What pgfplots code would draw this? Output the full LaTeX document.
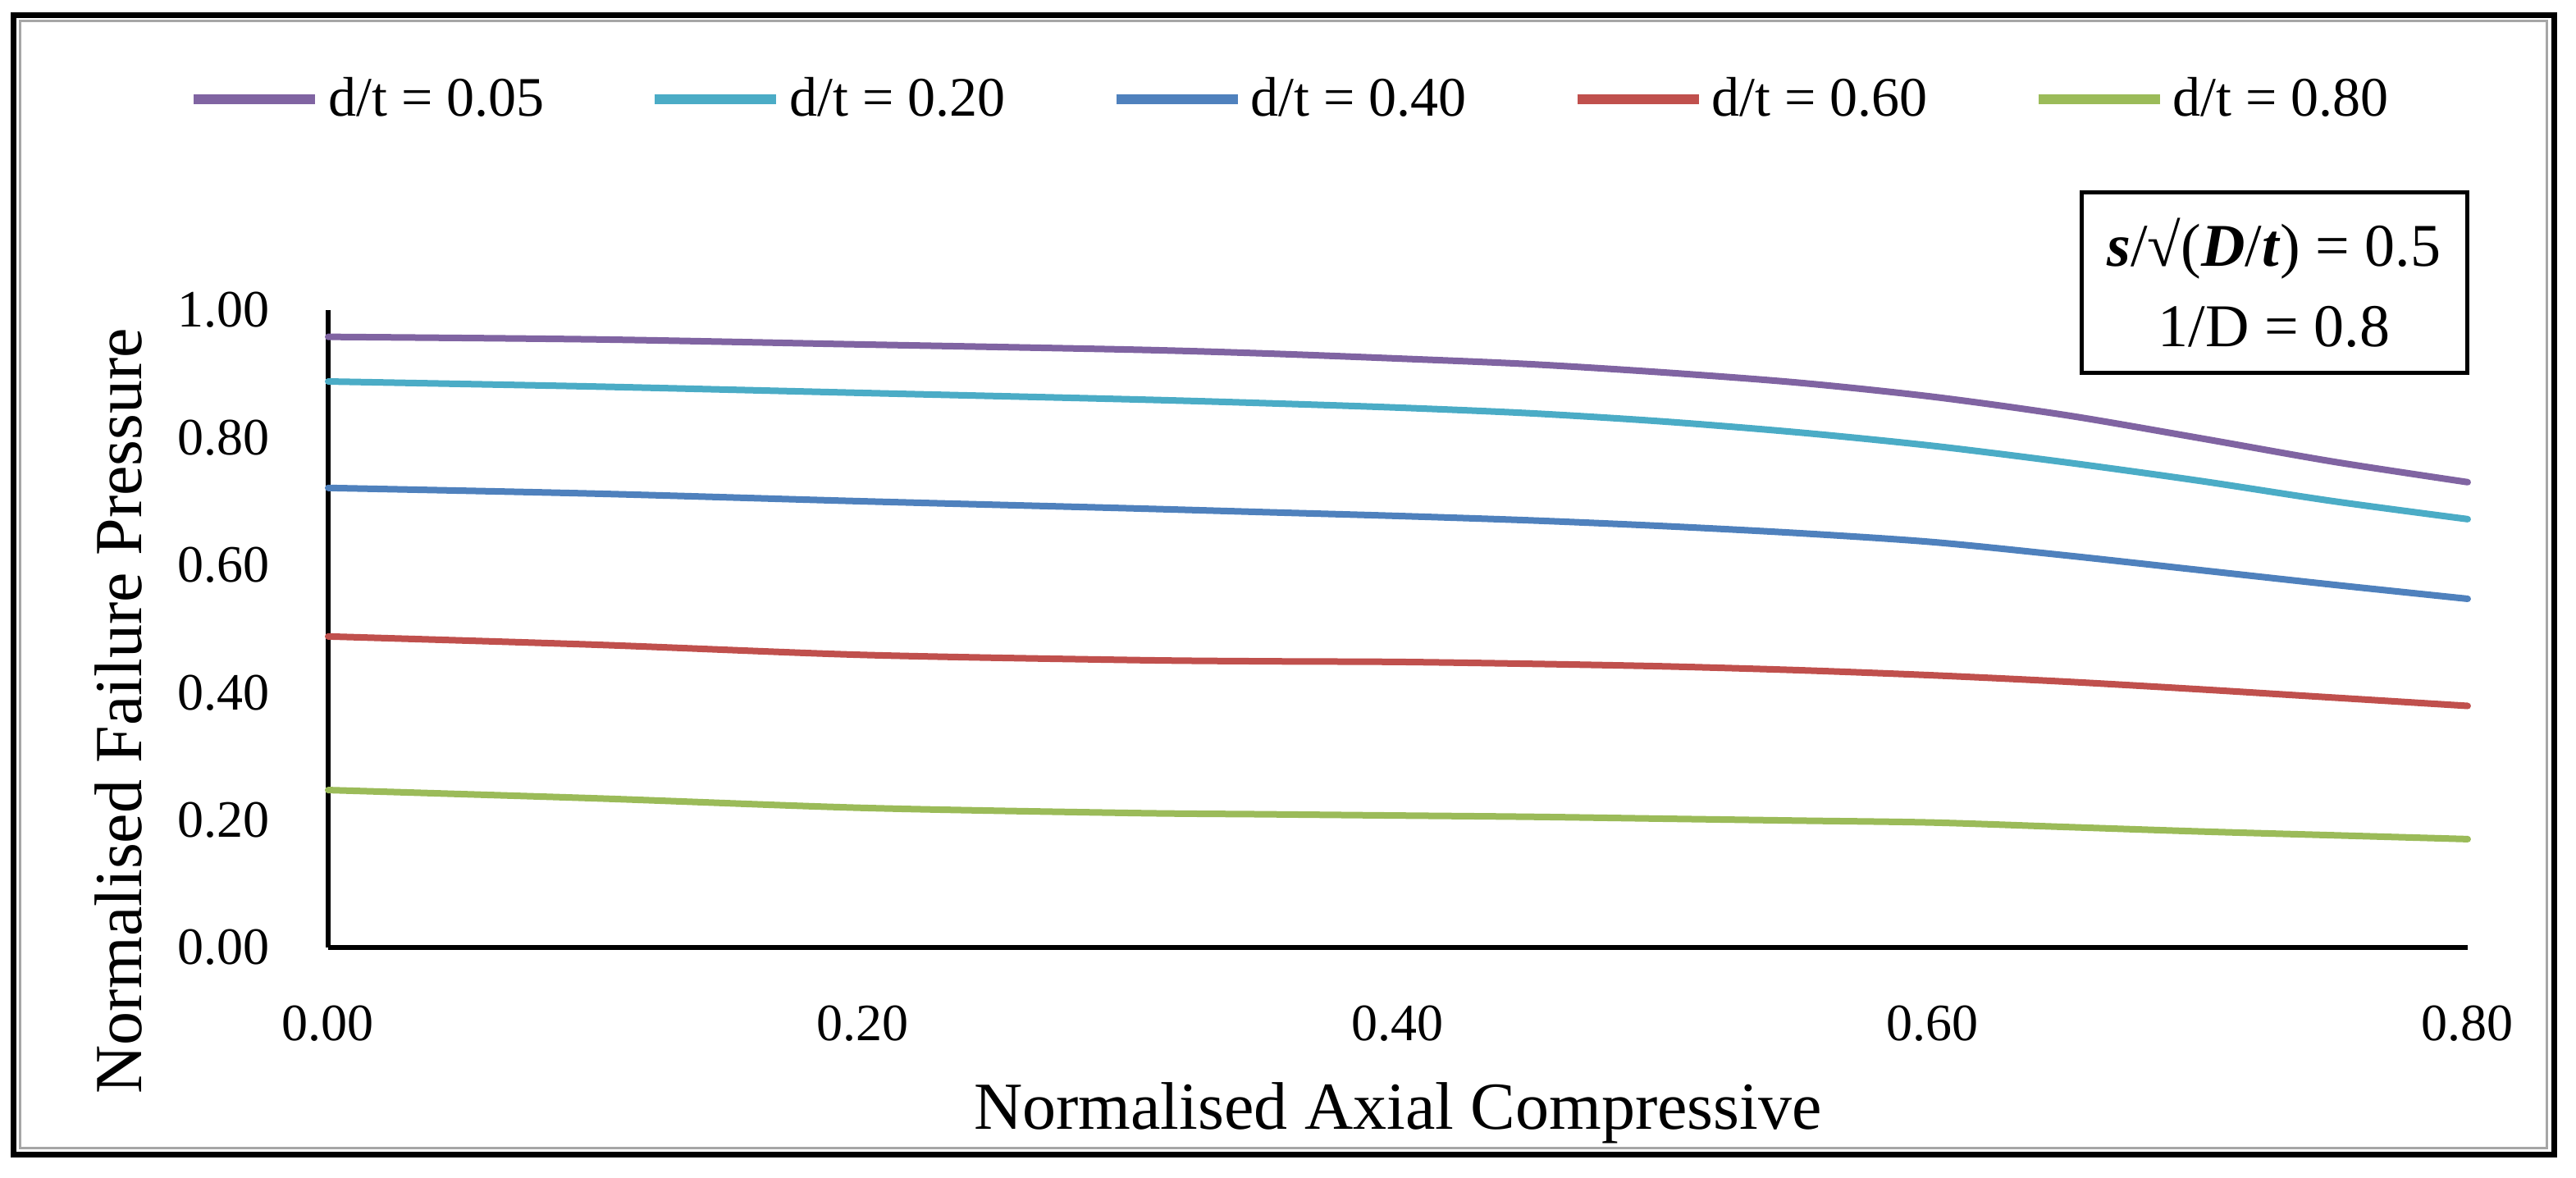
\documentclass[border=0pt]{standalone}
\usepackage{fontspec}
\setmainfont{Liberation Serif}
\usepackage{pgfplots}
\pgfplotsset{compat=1.18}

\definecolor{cPurple}{HTML}{8064A2}
\definecolor{cCyan}{HTML}{4BACC6}
\definecolor{cBlue}{HTML}{4F81BD}
\definecolor{cRed}{HTML}{C0504D}
\definecolor{cGreen}{HTML}{9BBB59}

\pgfplotstableread{
x     p05    p20    p40    p60    p80
0.00  0.958  0.888  0.721  0.488  0.247
0.10  0.954  0.880  0.712  0.475  0.234
0.20  0.946  0.870  0.700  0.459  0.219
0.30  0.938  0.860  0.689  0.451  0.211
0.35  0.932  0.854  0.683  0.449  0.209
0.40  0.924  0.847  0.677  0.448  0.207
0.45  0.915  0.838  0.670  0.445  0.205
0.50  0.902  0.825  0.661  0.441  0.202
0.55  0.886  0.808  0.650  0.435  0.199
0.60  0.864  0.787  0.636  0.427  0.196
0.65  0.835  0.761  0.615  0.417  0.189
0.70  0.799  0.732  0.592  0.405  0.182
0.75  0.762  0.700  0.569  0.392  0.176
0.80  0.730  0.672  0.547  0.379  0.170
}\datatable

\tikzset{
  curve/.style={line width=2pt, line cap=round, line join=round, smooth},
}

\begin{document}
\begin{tikzpicture}
\useasboundingbox (0,0) rectangle (785pt,359pt);

% outer frame of the figure
\draw[line width=1.75pt] (4pt,7pt) rectangle (778.25pt,354.4pt);
\draw[gray!70, line width=0.75pt] (6.1pt,9pt) rectangle (776pt,352.5pt);

\begin{axis}[
    at={(100pt,70.25pt)}, anchor=south west,
    scale only axis,
    width=652pt, height=194.25pt,
    xmin=0, xmax=0.8, ymin=0, ymax=1,
    axis x line=bottom, axis y line=left,
    axis line style={-, line width=1.6pt},
    xtick={0,0.2,0.4,0.6,0.8},
    ytick={0,0.2,0.4,0.6,0.8,1},
    major tick length=0pt,
    clip=false,
    /pgf/number format/.cd, fixed, fixed zerofill, precision=2, assume math mode=true,
    /pgfplots/.cd,
    tick label style={font=\fontsize{16}{19}\selectfont, inner sep=0pt},
    xticklabel style={anchor=north, yshift=-17.5pt},
    yticklabel style={anchor=east, xshift=-17.75pt},
    label style={font=\fontsize{20.5}{24}\selectfont},
    xlabel={Normalised Axial Compressive},
    ylabel={Normalised Failure Pressure},
    xlabel style={at={(axis description cs:0.5,-0.2857)}, anchor=base},
    ylabel style={at={(axis description cs:-0.0874,0.3714)}, anchor=base},
    legend columns=5,
    legend cell align=left,
    legend image code/.code={\draw[#1, line width=3pt, line cap=butt] (0pt,0pt) -- (37pt,0pt);},
    legend style={
      at={(axis description cs:-0.0651,1.3308)}, anchor=west,
      draw=none, fill=none, inner sep=0pt, outer sep=0pt,
      font=\fontsize{17}{20}\selectfont,
      nodes={inner sep=0pt},
      /tikz/every odd column/.append style={column sep=2.5pt},
      /tikz/every even column/.append style={column sep=32.25pt},
    },
]
\addplot[curve, cPurple] table[x=x, y=p05] {\datatable};
\addlegendentry{d/t = 0.05}
\addplot[curve, cCyan] table[x=x, y=p20] {\datatable};
\addlegendentry{d/t = 0.20}
\addplot[curve, cBlue] table[x=x, y=p40] {\datatable};
\addlegendentry{d/t = 0.40}
\addplot[curve, cRed] table[x=x, y=p60] {\datatable};
\addlegendentry{d/t = 0.60}
\addplot[curve, cGreen] table[x=x, y=p80] {\datatable};
\addlegendentry{d/t = 0.80}
\end{axis}

% parameter box
\draw[line width=1.25pt] (634.25pt,245.25pt) rectangle (751.75pt,300.25pt);
\node[anchor=base, inner sep=0pt, font=\fontsize{18.5}{22}\selectfont] at (693pt,277.75pt)
  {\textbf{\textit{s}}/√(\textbf{\textit{D}}/\textbf{\textit{t}}) = 0.5};
\node[anchor=base, inner sep=0pt, font=\fontsize{18.5}{22}\selectfont] at (693pt,253.25pt)
  {1/D = 0.8};
\end{tikzpicture}
\end{document}
